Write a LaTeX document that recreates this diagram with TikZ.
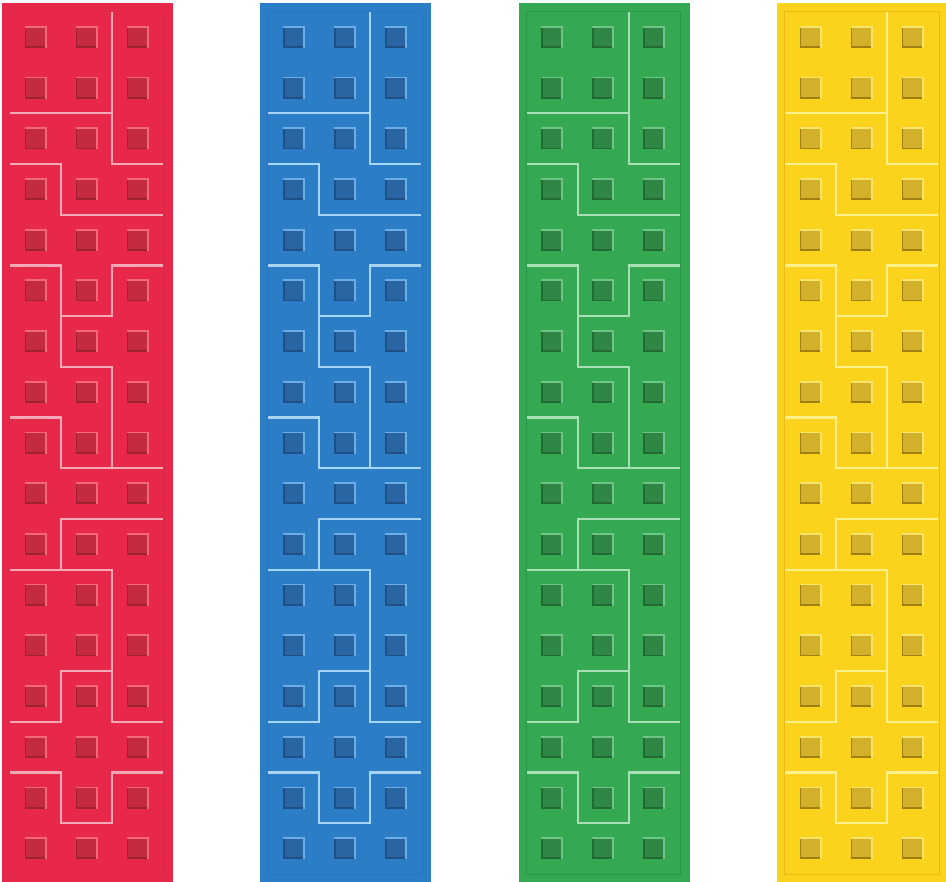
\documentclass[tikz,border=0pt]{standalone}
\usepackage{xcolor}
\usepackage{tikz}
\usetikzlibrary{calc}
% strip colours: body, stud, highlight, shadow, seam, rim
\definecolor{bRed}{HTML}{E8284A}
\definecolor{sRed}{HTML}{C42A40}
\definecolor{hRed}{HTML}{F0687A}
\definecolor{dRed}{HTML}{A02034}
\definecolor{lRed}{HTML}{F7A8B5}
\definecolor{rRed}{HTML}{DE2647}
\definecolor{bBlue}{HTML}{2B7EC6}
\definecolor{sBlue}{HTML}{2965A3}
\definecolor{hBlue}{HTML}{6AAEE5}
\definecolor{dBlue}{HTML}{1F4F85}
\definecolor{lBlue}{HTML}{A8D4F5}
\definecolor{rBlue}{HTML}{2976BE}
\definecolor{bGreen}{HTML}{35A852}
\definecolor{sGreen}{HTML}{2E8744}
\definecolor{hGreen}{HTML}{70C487}
\definecolor{dGreen}{HTML}{226A34}
\definecolor{lGreen}{HTML}{A8E0B5}
\definecolor{rGreen}{HTML}{2E984A}
\definecolor{bYellow}{HTML}{FCD31C}
\definecolor{sYellow}{HTML}{D2B02A}
\definecolor{hYellow}{HTML}{F7E46A}
\definecolor{dYellow}{HTML}{9E7F10}
\definecolor{lYellow}{HTML}{FFF08A}
\definecolor{rYellow}{HTML}{EDB915}

\tikzset{
  seam/.style={line width=2.2pt, line join=miter},
  rim/.style={line width=1pt},
  edge/.style={line width=1.8pt}
}

\begin{document}
\begin{tikzpicture}[x=1pt, y=-1pt]
  \useasboundingbox (0,0) rectangle (946,882);
  \foreach \sx/\bd/\st/\hi/\sh/\sm/\rm in
      {2/bRed/sRed/hRed/dRed/lRed/rRed,
       260.3/bBlue/sBlue/hBlue/dBlue/lBlue/rBlue,
       518.6/bGreen/sGreen/hGreen/dGreen/lGreen/rGreen,
       777/bYellow/sYellow/hYellow/dYellow/lYellow/rYellow} {
    \begin{scope}[shift={(\sx,0)}]
      % strip body and inner rim
      \fill[\bd] (0,3) rectangle (171,882);
      \draw[rim, \rm] (7.5,11.5) rectangle (162,874.5);
      % studs
      \foreach \i in {0,1,2}
        \foreach \j in {0,...,16} {
          \pgfmathsetmacro\cx{33.5+51*\i}
          \pgfmathsetmacro\cy{37+50.7*\j}
          \fill[\st] (\cx-11,\cy-11) rectangle (\cx+11,\cy+11);
          \draw[edge, \sh] (\cx-10.1,\cy-11) -- (\cx-10.1,\cy+10.1) -- (\cx+11,\cy+10.1);
          \draw[edge, \hi] (\cx-11,\cy-10.1) -- (\cx+10.1,\cy-10.1) -- (\cx+10.1,\cy+11);
        }
      % seams between the pieces
      \begin{scope}[shift={(8,12)}, x=51pt, y=-50.7pt]
        \draw[seam, \sm] (2,0) -- (2,3) -- (3,3);
        \draw[seam, \sm] (0,2) -- (2,2);
        \draw[seam, \sm] (0,3) -- (1,3) -- (1,4) -- (3,4);
        \draw[seam, \sm] (0,5) -- (1,5) -- (1,6) -- (2,6) -- (2,5) -- (3,5);
        \draw[seam, \sm] (1,6) -- (1,7) -- (2,7) -- (2,9);
        \draw[seam, \sm] (0,8) -- (1,8) -- (1,9) -- (3,9);
        \draw[seam, \sm] (1,11) -- (1,10) -- (3,10);
        \draw[seam, \sm] (0,11) -- (2,11) -- (2,14) -- (3,14);
        \draw[seam, \sm] (0,14) -- (1,14) -- (1,13) -- (2,13);
        \draw[seam, \sm] (0,15) -- (1,15) -- (1,16) -- (2,16) -- (2,15) -- (3,15);
      \end{scope}
    \end{scope}
  }
\end{tikzpicture}
\end{document}
